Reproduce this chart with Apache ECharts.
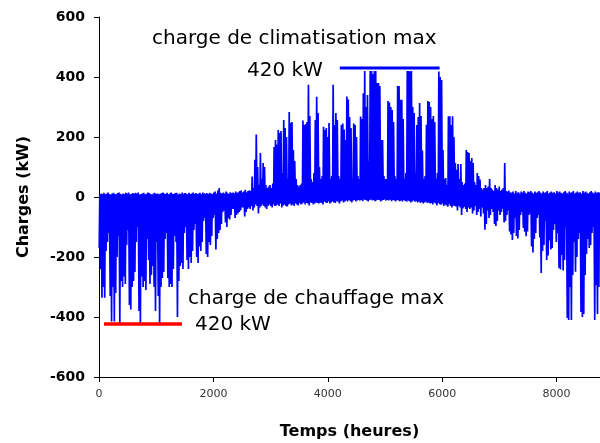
<!DOCTYPE html>
<html><head><meta charset="utf-8">
<script src="https://cdn.jsdelivr.net/npm/echarts@6/dist/echarts.min.js"></script>
<style>html,body{margin:0;padding:0;background:#fff}#c{width:600px;height:443px}</style>
</head><body><div id="c"></div>
<script>
// Daily extremes of the hourly load (kW), day 0 .. day 364
const dayMin = [
-170,-240,-336,-300,-336,-180,-150,-120,-330,-415,
-300,-415,-320,-200,-130,-420,-280,-300,-265,-290,
-160,-110,-360,-375,-300,-280,-250,-150,-100,-380,
-420,-265,-300,-280,-310,-140,-210,-290,-260,-230,
-300,-380,-150,-330,-420,-300,-270,-250,-140,-120,
-270,-300,-290,-300,-240,-130,-150,-400,-280,-230,
-220,-240,-120,-100,-210,-240,-200,-220,-180,-110,
-90,-200,-220,-165,-180,-150,-80,-70,-190,-200,
-150,-160,-130,-70,-60,-175,-140,-120,-110,-90,
-50,-45,-85,-100,-70,-75,-60,-40,-40,-70,
-60,-55,-50,-45,-35,-35,-65,-50,-40,-35,
-40,-30,-45,-35,-25,-30,-55,-35,-30,-25,
-30,-35,-40,-30,-25,-30,-35,-25,-30,-28,
-25,-30,-22,-35,-28,-25,-30,-32,-25,-22,
-28,-25,-30,-22,-25,-28,-20,-25,-22,-18,
-25,-20,-22,-28,-18,-20,-25,-22,-18,-20,
-22,-18,-20,-25,-16,-18,-20,-15,-22,-18,
-15,-18,-20,-14,-16,-22,-15,-12,-18,-15,
-12,-15,-10,-14,-18,-12,-10,-15,-12,-10,
-12,-10,-14,-8,-10,-12,-15,-10,-8,-12,
-10,-14,-12,-9,-10,-15,-12,-10,-8,-12,
-10,-12,-9,-14,-10,-12,-15,-10,-12,-14,
-12,-15,-10,-13,-16,-12,-14,-18,-15,-12,
-16,-14,-18,-15,-20,-17,-22,-18,-16,-20,
-18,-22,-20,-25,-18,-22,-28,-20,-24,-26,
-22,-30,-25,-28,-32,-24,-30,-35,-28,-30,
-32,-45,-30,-35,-60,-38,-32,-40,-50,-35,
-40,-35,-55,-45,-30,-60,-50,-40,-65,-35,
-55,-109,-90,-45,-70,-60,-40,-50,-90,-97,
-80,-45,-60,-50,-40,-85,-80,-60,-45,-115,
-125,-143,-120,-70,-130,-138,-110,-60,-50,-103,
-116,-131,-115,-60,-55,-165,-185,-140,-120,-70,
-60,-135,-253,-180,-160,-80,-210,-195,-145,-175,
-170,-110,-90,-150,-120,-237,-242,-193,-245,-210,
-100,-403,-410,-300,-410,-260,-150,-249,-200,-140,
-120,-383,-400,-390,-260,-190,-140,-170,-160,-120,
-100,-410,-293,-390,-300
];
const dayMax = [
8,12,10,14,9,12,15,10,8,12,
14,10,9,13,15,11,8,12,10,14,
12,15,9,10,13,11,14,12,15,8,
10,12,14,9,11,15,13,10,8,12,
14,10,12,9,11,13,15,12,10,14,
9,12,15,11,10,13,14,8,12,10,
15,11,13,12,9,14,10,12,15,11,
13,10,12,14,9,15,12,11,13,10,
14,12,10,15,18,12,22,30,14,12,
15,12,18,14,10,16,13,15,12,18,
14,16,20,22,15,18,24,16,20,22,
20,68,30,124,208,100,40,147,60,113,
100,40,30,35,40,30,45,167,190,175,
223,213,220,80,257,230,200,60,283,247,
250,157,120,60,40,35,40,45,255,240,
243,250,374,270,60,50,80,257,334,280,
100,60,70,234,223,230,200,247,60,70,
374,240,280,257,70,60,240,245,225,190,
335,325,267,230,60,245,240,200,70,60,
268,260,346,420,300,340,120,420,420,410,
420,420,380,380,370,190,190,70,60,60,
320,315,300,290,250,70,60,370,370,324,
324,260,60,80,420,420,418,420,300,280,
80,240,267,313,270,155,60,70,241,320,
317,300,260,270,250,60,80,418,400,390,
157,60,63,40,269,269,240,269,200,113,
91,110,60,110,50,40,45,157,150,147,
120,130,113,50,40,80,70,58,30,25,
30,40,30,35,60,30,25,20,40,30,
25,35,20,25,30,113,20,18,22,15,
15,18,12,20,14,16,12,18,15,20,
14,12,18,16,20,15,12,18,14,16,
20,15,12,18,14,16,20,12,15,18,
14,16,12,20,15,18,14,12,16,20,
15,12,18,14,16,20,12,15,18,14,
16,12,20,15,18,14,12,16,20,15,
12,18,14,16,15
];
// Annotation segments [hour, kW]
const heatingMaxLine = [[87,-423],[1450,-423]];
const coolingMaxLine = [[4210,430],[5956,430]];
const maxLabel = '420 kW';
const heatLabel = 'charge de chauffage max';
const coolLabel = 'charge de climatisation max';

const loadData = [];
for (let d = 0; d < dayMin.length; d++) {
  loadData.push([d * 24 + 4, dayMin[d]]);
  loadData.push([d * 24 + 14, dayMax[d]]);
}

const F = 'DejaVu Sans';
const chart = echarts.init(document.getElementById('c'), null, {renderer:'canvas'});
chart.setOption({
  animation: false,
  backgroundColor: '#fff',
  grid: {left: 99, right: 0, top: 17, bottom: 66, containLabel: false, outerBoundsMode: 'none'},
  xAxis: {
    type: 'value', min: 0, max: 8760, interval: 2000,
    axisLine: {onZero: false, lineStyle: {color: '#000', width: 1}},
    axisTick: {length: 5, lineStyle: {color: '#000'}},
    axisLabel: {showMaxLabel: false, margin: 12, color: '#333', fontSize: 11, fontFamily: F,
      formatter: v => String(v)},
    splitLine: {show: false},
    name: 'Temps (heures)', nameLocation: 'middle', nameGap: 47,
    nameTextStyle: {fontSize: 16, fontWeight: 'bold', color: '#000', fontFamily: F}
  },
  yAxis: {
    type: 'value', min: -600, max: 600, interval: 200,
    axisLine: {show: true, onZero: false, lineStyle: {color: '#000', width: 1}},
    axisTick: {show: true, length: 5, lineStyle: {color: '#000'}},
    axisLabel: {margin: 14, color: '#000', fontSize: 14, fontWeight: 'bold', fontFamily: F},
    splitLine: {show: false},
    name: 'Charges (kW)', nameLocation: 'middle', nameGap: 67,
    nameTextStyle: {fontSize: 16, fontWeight: 'bold', color: '#000', fontFamily: F}
  },
  series: [
    {type: 'line', data: loadData, showSymbol: false, sampling: null,
     lineStyle: {color: '#0000ff', width: 1.7}, itemStyle: {color: '#0000ff'}, z: 2},
    {type: 'line', data: heatingMaxLine, showSymbol: false,
     lineStyle: {color: '#ff0000', width: 3.5}, z: 3},
    {type: 'line', data: coolingMaxLine, showSymbol: false,
     lineStyle: {color: '#0000ff', width: 3}, z: 3}
  ],
  graphic: [
    {type: 'text', x: 152, y: 39, style: {text: coolLabel, fontSize: 20, fontFamily: F, fill: '#000', verticalAlign: 'middle'}},
    {type: 'text', x: 247, y: 71, style: {text: maxLabel, fontSize: 20, fontFamily: F, fill: '#000', verticalAlign: 'middle'}},
    {type: 'text', x: 188, y: 299, style: {text: heatLabel, fontSize: 20, fontFamily: F, fill: '#000', verticalAlign: 'middle'}},
    {type: 'text', x: 195, y: 325, style: {text: maxLabel, fontSize: 20, fontFamily: F, fill: '#000', verticalAlign: 'middle'}}
  ]
});
</script>
</body></html>
